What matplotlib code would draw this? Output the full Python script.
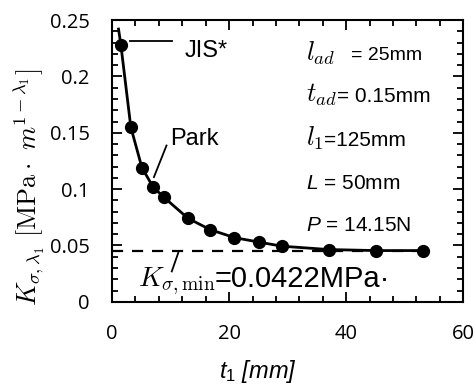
import matplotlib
matplotlib.use("Agg")
import matplotlib.pyplot as plt
from matplotlib.ticker import MultipleLocator

plt.rcParams['mathtext.fontset'] = 'cm'
# fuente "custom" para las partes en Arial cursiva
plt.rcParams['mathtext.rm'] = 'Liberation Sans'
plt.rcParams['mathtext.it'] = 'Liberation Sans:italic'

# datos
t1 = [1.5, 3.2, 5.1, 7.0, 8.8, 13.0, 16.8, 20.9, 25.1, 29.0, 37.0, 45.1, 53.1]
k = [0.228, 0.155, 0.119, 0.102, 0.093, 0.074, 0.064, 0.057, 0.053, 0.0494, 0.0464, 0.0455, 0.0455]
# inicio de la curva por encima del primer punto
t_curva = [1.1] + t1
k_curva = [0.242] + k
k_min = 0.045

fig = plt.figure(figsize=(4.77, 3.86), dpi=100)
ax = fig.add_axes([0.235, 0.218, 0.736, 0.730])

ax.plot(t_curva, k_curva, '-k', linewidth=2)
ax.plot(t1, k, 'ok', markersize=8.5)
ax.plot([0, 53], [k_min, k_min], '--k', linewidth=1.6, dashes=(5, 4))

ax.set_xlim(0, 60)
ax.set_ylim(0, 0.25)
ax.xaxis.set_major_locator(MultipleLocator(20))
ax.xaxis.set_minor_locator(MultipleLocator(4))
ax.yaxis.set_major_locator(MultipleLocator(0.05))
ax.yaxis.set_minor_locator(MultipleLocator(0.01))
ax.set_yticks([0, 0.05, 0.1, 0.15, 0.2, 0.25])
ax.set_yticklabels(['0', '0.05', '0.1', '0.15', '0.2', '0.25'])
ax.tick_params(which='both', direction='in', top=True, right=True, width=1.3)
ax.tick_params(which='major', length=7, labelsize=14.5)
ax.tick_params(axis='y', which='major', pad=16)
ax.tick_params(axis='x', which='major', pad=16)
ax.tick_params(which='minor', length=4)
for lab in ax.get_xticklabels() + ax.get_yticklabels():
    lab.set_family('Open Sans')
for s in ax.spines.values():
    s.set_linewidth(1.5)

ax.set_xlabel('$t_1$ [mm]', fontsize=17, family='Liberation Sans', style='italic',
              math_fontfamily='custom', va='center')
ax.xaxis.set_label_coords(0.416, -0.248)
ax.set_ylabel(r'$K_{\sigma,\lambda_1}\ [\mathrm{MPa}\cdot\ m^{1-\lambda_1}]$', fontsize=19,
              va='center')
ax.yaxis.set_label_coords(-0.239, 0.408)

# anotaciones
ax.plot([3.1, 10.2], [0.2315, 0.2315], '-k', linewidth=1.3)
ax.text(12.4, 0.223, 'JIS*', fontsize=17, family='Liberation Sans', va='center')
ax.plot([7.15, 9.3], [0.1107, 0.1387], '-k', linewidth=1.3)
ax.text(10.0, 0.1446, 'Park', fontsize=17, family='Liberation Sans', va='center')
ax.plot([11.3, 10.2], [0.0434, 0.027], '-k', linewidth=1.3)
ax.text(4.4, 0.0134, r'$K_{\sigma,\mathrm{min}}$', fontsize=20, va='baseline')
ax.text(17.6, 0.0134, '=0.0422MPa·', fontsize=21, family='Liberation Sans', va='baseline')

fs = 15
ax.text(33.2, 0.2143, r'$l_{ad}$', fontsize=19, va='baseline')
ax.text(40.8, 0.2143, '= 25mm', fontsize=14, family='Liberation Sans', va='baseline')
ax.text(33.2, 0.1777, r'$t_{ad}$', fontsize=19, va='baseline')
ax.text(38.5, 0.1777, '= 0.15mm', fontsize=fs, family='Liberation Sans', va='baseline')
ax.text(33.2, 0.1384, r'$l_1$', fontsize=19, va='baseline')
ax.text(36.3, 0.1384, '=125mm', fontsize=fs, family='Liberation Sans', va='baseline')
ax.text(33.2, 0.100, '$L$ = 50mm', fontsize=fs, family='Liberation Sans', va='baseline',
        math_fontfamily='custom')
ax.text(33.2, 0.0625, '$P$ = 14.15N', fontsize=fs, family='Liberation Sans', va='baseline',
        math_fontfamily='custom')

fig.savefig('out.png', dpi=100)
